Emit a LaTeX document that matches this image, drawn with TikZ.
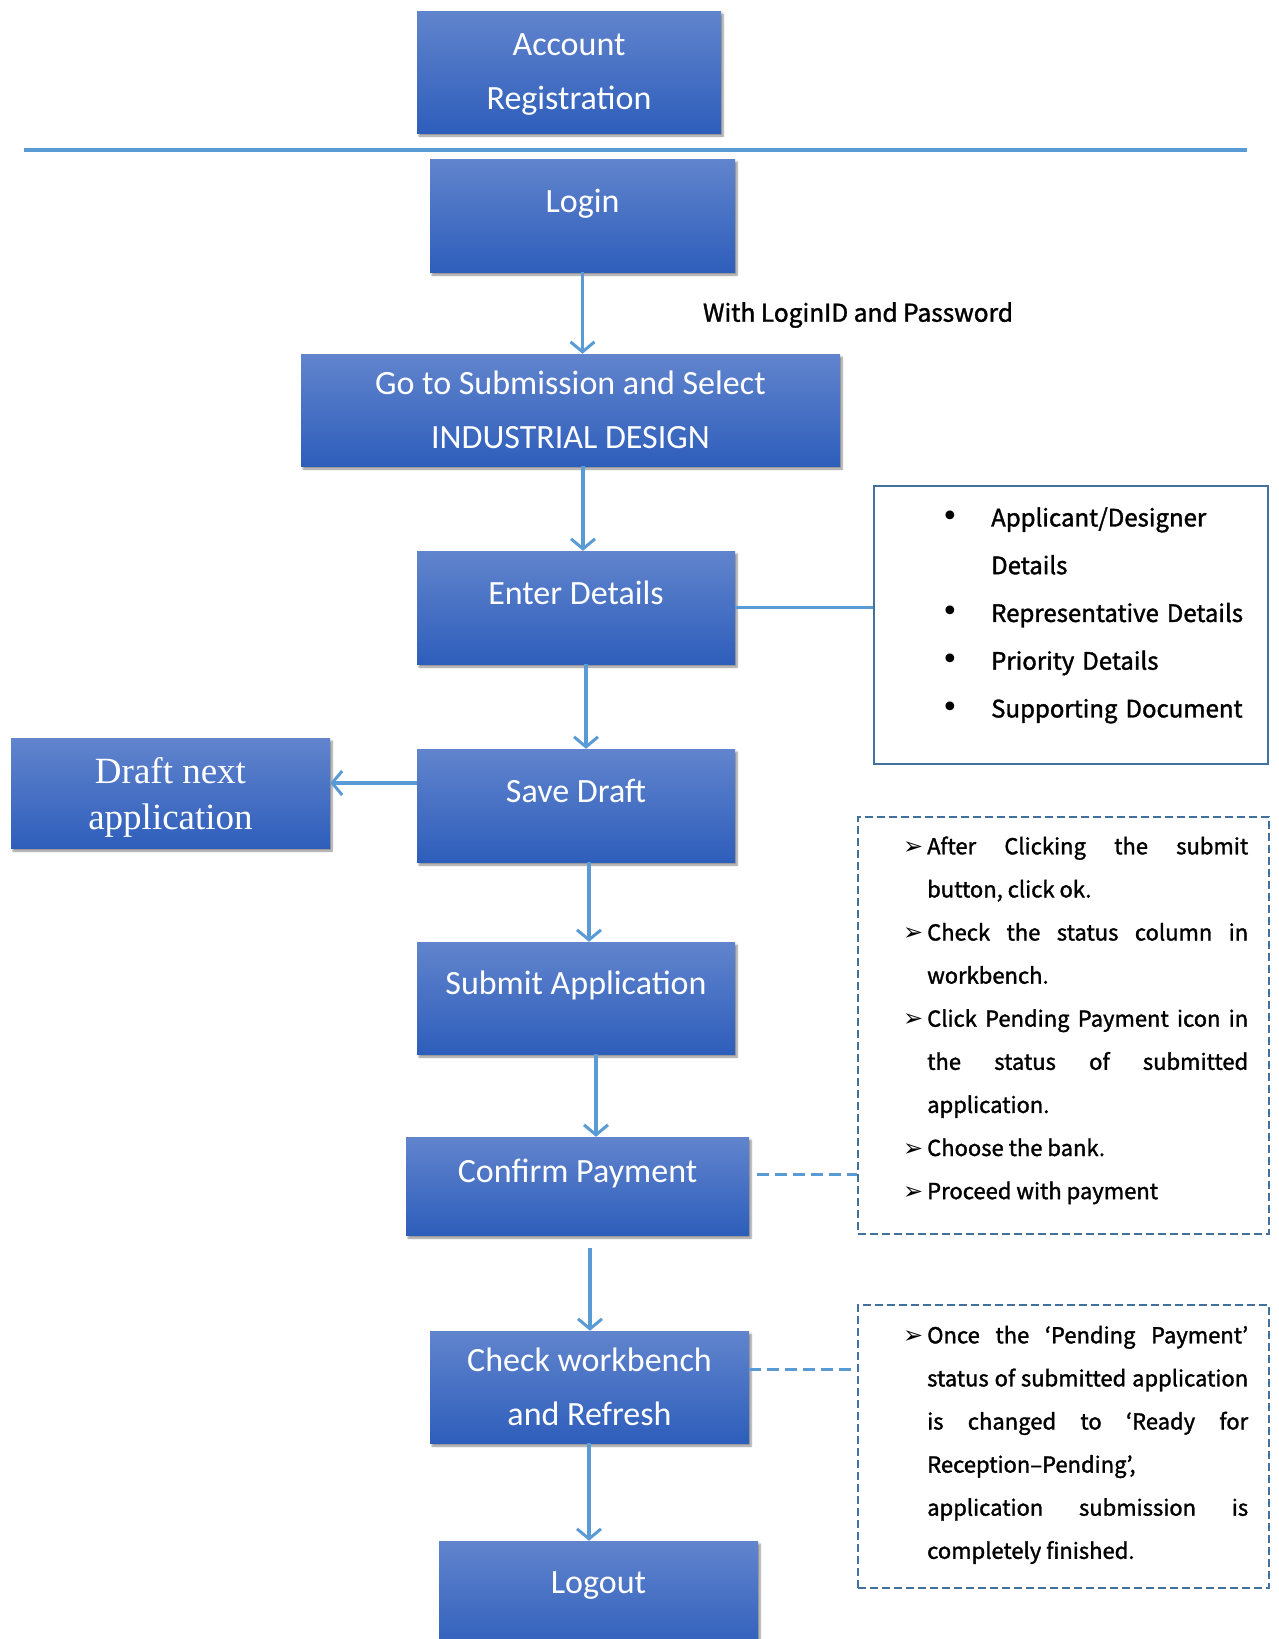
\documentclass[tikz,border=0pt]{standalone}
\usepackage{fontspec}
\setmainfont{Carlito}
\newfontfamily\notefont{Noto Sans CJK KR}[UprightFeatures={FakeBold=1.5}]
\newfontfamily\serfont{Liberation Serif}
\newfontfamily\symfont{DejaVu Sans}
\usetikzlibrary{positioning,arrows.meta,shadows.blur}

\definecolor{boxtop}{RGB}{97,132,205}
\definecolor{boxbot}{RGB}{46,94,187}
\definecolor{arrblue}{RGB}{91,155,213}
\definecolor{edgeblue}{RGB}{65,113,156}

\hyphenpenalty=10000
\exhyphenpenalty=10000

% list items with hanging bullets
\newcommand{\pitem}{\par\noindent\hangindent=22pt\hangafter=1\strut\makebox[22pt][l]{\kern-2pt\symfont\fontsize{24}{24}\selectfont ➢}}
\newcommand{\ditem}{\par\noindent\hangindent=42pt\hangafter=1\strut\makebox[42pt][l]{\kern-8pt\symfont\fontsize{30}{30}\selectfont •}}

\begin{document}
\begin{tikzpicture}[x=1pt, y=-1pt,
    stepbox/.style={rectangle, top color=boxtop, bottom color=boxbot, text=white, align=center,
      font=\fontsize{34}{54}\selectfont, text depth=0pt,
      blur shadow={shadow xshift=2pt, shadow yshift=-3pt, shadow blur steps=6, shadow opacity=45}},
    oneline/.style={text depth=30pt},
    lowtext/.style={execute at begin node={\rule{0pt}{34pt}}},
    arr/.style={arrblue, line width=3.5pt, -{Straight Barb[length=10pt, width=24pt, line width=3pt]}},
    link/.style={arrblue, line width=3pt, dash pattern=on 12pt off 6pt},
    notebox/.style={rectangle, draw=edgeblue, line width=2.5pt},
    dashbox/.style={rectangle, draw=edgeblue, line width=2pt, dash pattern=on 8pt off 4pt},
    notetext/.style={anchor=north west, inner sep=0pt, font=\notefont\fontsize{22}{43.1}\selectfont}]
  \useasboundingbox (0,0) rectangle (1278,1639);

  \node[stepbox, minimum width=304pt, minimum height=122pt] (acc) at (569,72) {Account\\Registration};
  \draw[arrblue, line width=4pt] (24,150) -- (1247,150);

  \node[stepbox, oneline, minimum width=305pt, minimum height=113pt] (lgn) at (582.5,215.5) {Login};
  \node[font=\notefont\fontsize{24.5}{24.5}\selectfont] (lid) at (858,315) {With LoginID and Password};
  \node[stepbox, lowtext, minimum width=539pt, minimum height=112pt] (sub) at (570.5,410) {Go to Submission and Select\\INDUSTRIAL DESIGN};
  \node[stepbox, oneline, minimum width=318pt, minimum height=113pt] (det) at (576,607.5) {Enter Details};
  \node[stepbox, oneline, minimum width=318pt, minimum height=113pt] (sav) at (576,805.5) {Save Draft};
  \node[stepbox, minimum width=319pt, minimum height=110pt, font=\serfont\fontsize{37}{46}\selectfont] (drf) at (170.5,793) {Draft next\\application};
  \node[stepbox, oneline, minimum width=318pt, minimum height=112pt] (smt) at (576,998) {Submit Application};
  \node[stepbox, oneline, minimum width=343pt, minimum height=98pt] (pay) at (577.5,1186) {Confirm Payment};
  \node[stepbox, lowtext, minimum width=319pt, minimum height=112pt] (chk) at (589.5,1387) {Check workbench\\and Refresh};
  \node[stepbox, oneline, minimum width=319pt, minimum height=113pt] (out) at (598.5,1597.5) {Logout};

  % side notes
  \node[notebox, minimum width=394pt, minimum height=278pt] (dl) at (1071,625) {};
  \node[notetext, text width=300pt, align=left, font=\notefont\fontsize{24}{47.75}\selectfont] (dlt) at (949,478.5) {%
    \ditem Applicant/Designer\newline Details
    \ditem Representative Details
    \ditem Priority Details
    \ditem Supporting Document\par};

  \node[dashbox, minimum width=411pt, minimum height=417pt] (pl) at (1063.5,1025.5) {};
  \node[notetext, text width=343pt, align=justify] (plt) at (905,811) {%
    \pitem After Clicking the submit\linebreak button, click ok.
    \pitem Check the status column in\linebreak workbench.
    \pitem Click Pending Payment icon in\linebreak the status of submitted\linebreak application.
    \pitem Choose the bank.
    \pitem Proceed with payment\par};

  \node[dashbox, minimum width=411pt, minimum height=283pt] (fl) at (1063.5,1446.5) {};
  \node[notetext, text width=343pt, align=justify] (flt) at (905,1300) {%
    \pitem Once the ‘Pending Payment’\linebreak status of submitted application\linebreak is changed to ‘Ready for\linebreak Reception–Pending’,\newline application submission is\linebreak completely finished.\par};

  % connectors
  \draw[arr] (lgn.south) -- (lgn.south |- sub.north);
  \draw[arr] ([xshift=12.5pt]sub.south) -- ([xshift=12.5pt]sub.south |- det.north);
  \draw[arr] ([xshift=10pt]det.south) -- ([xshift=10pt]det.south |- sav.north);
  \draw[arr] ([xshift=13pt]sav.south) -- ([xshift=13pt]sav.south |- smt.north);
  \draw[arr] ([xshift=20pt]smt.south) -- ([xshift=20pt]smt.south |- pay.north);
  \draw[arr] ([xshift=12.5pt,yshift=-13pt]pay.south) -- ([xshift=12.5pt]pay.south |- chk.north);
  \draw[arr] ([xshift=-0.5pt]chk.south) -- ([xshift=-0.5pt]chk.south |- out.north);
  \draw[arr] ([yshift=22.5pt]sav.west) -- ([yshift=22.5pt]sav.west -| drf.east);
  \draw[arrblue, line width=3pt] (det.east) -- (det.east -| dl.west);
  \draw[link] ([xshift=8pt,yshift=12pt]pay.east) -- ([yshift=12pt]pay.east -| pl.west);
  \draw[link] ([yshift=18pt]chk.east) -- ([yshift=18pt]chk.east -| fl.west);
\end{tikzpicture}
\end{document}
